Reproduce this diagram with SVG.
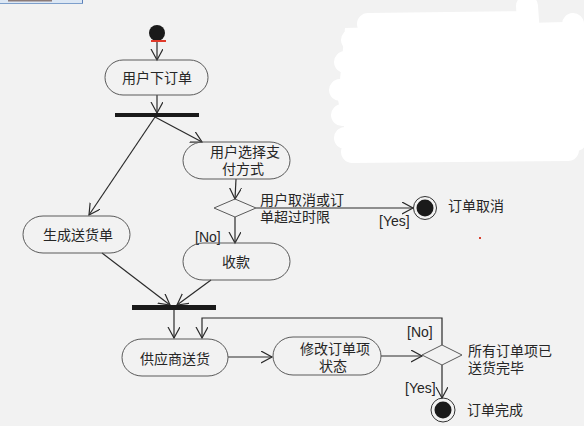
<svg xmlns="http://www.w3.org/2000/svg" width="584" height="426" viewBox="0 0 584 426">
<style>
  .node { fill: none; stroke: #5a5a5a; stroke-width: 1; }
  .txt { font-family: "Liberation Sans", "Noto Sans CJK SC", sans-serif; font-size: 14px; fill: #262626; }
  .lbl { font-family: "Liberation Sans", "Noto Sans CJK SC", sans-serif; font-size: 14px; fill: #262626; }
  .conn { fill: none; stroke: #2a2a2a; stroke-width: 1.2; }
  .bar { fill: #1a1a1a; }
  .blob { fill: none; stroke: #ffffff; stroke-width: 22; stroke-linecap: round; stroke-linejoin: round; }
</style>
<defs>
  <marker id="arr" markerUnits="userSpaceOnUse" markerWidth="14" markerHeight="14" refX="11" refY="6" orient="auto">
    <path d="M0,0 L11,6 L0,12" fill="none" stroke="#2a2a2a" stroke-width="1.2"/>
  </marker>
</defs>
<rect x="0" y="0" width="584" height="426" fill="#f2f2f2"/>
<g id="strip">
  <rect x="0" y="0" width="83" height="4" fill="#dce7f4"/>
  <line x1="82.5" y1="0" x2="82.5" y2="4" stroke="#5b7fb8" stroke-width="1"/>
  <line x1="0" y1="3.5" x2="83" y2="3.5" stroke="#7d9fcb" stroke-width="1"/>
  <rect x="8" y="0" width="44" height="1.5" fill="#8c7b78"/>
</g>
<g id="scribble">
  <path d="M345,28 L565,22 L578,30 L580,150 L350,154 L338,100 Z" fill="#ffffff"/>
  <path class="blob" d="M368,24 L520,22 M352,40 L560,34 M345,62 L578,56 M340,90 L580,84 M342,115 L580,110 M345,138 L575,134 M352,152 L568,150 M527,6 L530,50 M573,24 L576,140"/>
</g>
<g id="connectors">
  <line class="conn" x1="157" y1="42" x2="157" y2="60" marker-end="url(#arr)"/>
  <line class="conn" x1="157" y1="95" x2="157" y2="113" marker-end="url(#arr)"/>
  <line class="conn" x1="155" y1="117" x2="202" y2="142" marker-end="url(#arr)"/>
  <line class="conn" x1="155" y1="117" x2="89" y2="215" marker-end="url(#arr)"/>
  <line class="conn" x1="236" y1="179" x2="235" y2="199" marker-end="url(#arr)"/>
  <line class="conn" x1="256" y1="208" x2="413" y2="208" marker-end="url(#arr)"/>
  <line class="conn" x1="235" y1="217" x2="235" y2="243" marker-end="url(#arr)"/>
  <line class="conn" x1="102" y1="253" x2="170" y2="305" marker-end="url(#arr)"/>
  <line class="conn" x1="211" y1="280" x2="177" y2="305" marker-end="url(#arr)"/>
  <line class="conn" x1="174" y1="310" x2="174" y2="338" marker-end="url(#arr)"/>
  <line class="conn" x1="228" y1="357" x2="272" y2="357" marker-end="url(#arr)"/>
  <line class="conn" x1="381" y1="356" x2="422" y2="356" marker-end="url(#arr)"/>
  <polyline class="conn" points="442,345 442,318 202,318 202,338" marker-end="url(#arr)"/>
  <line class="conn" x1="442" y1="365" x2="442" y2="398" marker-end="url(#arr)"/>
  <text class="txt" x="260" y="205">用户取消或订</text>
  <text class="txt" x="260" y="222">单超过时限</text>
  <text class="lbl" x="379" y="226">[Yes]</text>
  <text class="lbl" x="195" y="242">[No]</text>
  <text class="lbl" x="407" y="337">[No]</text>
  <text class="lbl" x="405" y="393">[Yes]</text>
</g>
<g id="start">
  <circle cx="157" cy="33" r="8" fill="#1a1a1a"/>
  <line x1="151" y1="41" x2="166" y2="41" stroke="#e03a2a" stroke-width="2"/>
</g>
<g id="n1">
  <rect class="node" x="105" y="60" width="103" height="35" rx="18" ry="17.5"/>
  <text class="txt" x="157" y="83" text-anchor="middle">用户下订单</text>
</g>
<g id="fork">
  <rect class="bar" x="115" y="113" width="84" height="4"/>
</g>
<g id="n2">
  <rect class="node" x="183" y="142" width="107" height="37" rx="20" ry="18.5"/>
  <text class="txt" x="245" y="157" text-anchor="middle">用户选择支</text>
  <text class="txt" x="243" y="173.5" text-anchor="middle">付方式</text>
</g>
<g id="d1">
  <polygon class="node" points="214,208 235,199 256,208 235,217"/>
</g>
<g id="end1">
  <circle cx="425" cy="208" r="11.5" fill="none" stroke="#333" stroke-width="1"/>
  <circle cx="425" cy="208" r="8.5" fill="#1a1a1a"/>
  <text class="txt" x="448" y="211">订单取消</text>
</g>
<g id="n3">
  <rect class="node" x="23" y="216" width="107" height="37" rx="20" ry="18.5"/>
  <text class="txt" x="78" y="240" text-anchor="middle">生成送货单</text>
</g>
<g id="n4">
  <rect class="node" x="183" y="243" width="107" height="37" rx="20" ry="18.5"/>
  <text class="txt" x="236" y="267" text-anchor="middle">收款</text>
</g>
<g id="join">
  <rect class="bar" x="132" y="305" width="84" height="5"/>
</g>
<g id="n5">
  <rect class="node" x="122" y="339" width="106" height="37" rx="20" ry="18.5"/>
  <text class="txt" x="175" y="364" text-anchor="middle">供应商送货</text>
</g>
<g id="n6">
  <rect class="node" x="273" y="337" width="108" height="38" rx="20" ry="19"/>
  <text class="txt" x="335" y="354" text-anchor="middle">修改订单项</text>
  <text class="txt" x="333" y="370.5" text-anchor="middle">状态</text>
</g>
<g id="d2">
  <polygon class="node" points="422,355 442,345 462,355 442,365"/>
  <text class="txt" x="468" y="356">所有订单项已</text>
  <text class="txt" x="468" y="372.5">送货完毕</text>
</g>
<g id="end2">
  <circle cx="443" cy="410" r="12" fill="none" stroke="#333" stroke-width="1"/>
  <circle cx="443" cy="410" r="8.5" fill="#1a1a1a"/>
  <text class="txt" x="467" y="415">订单完成</text>
</g>
<rect x="479" y="237" width="2" height="2" fill="#d8402e"/>
</svg>
